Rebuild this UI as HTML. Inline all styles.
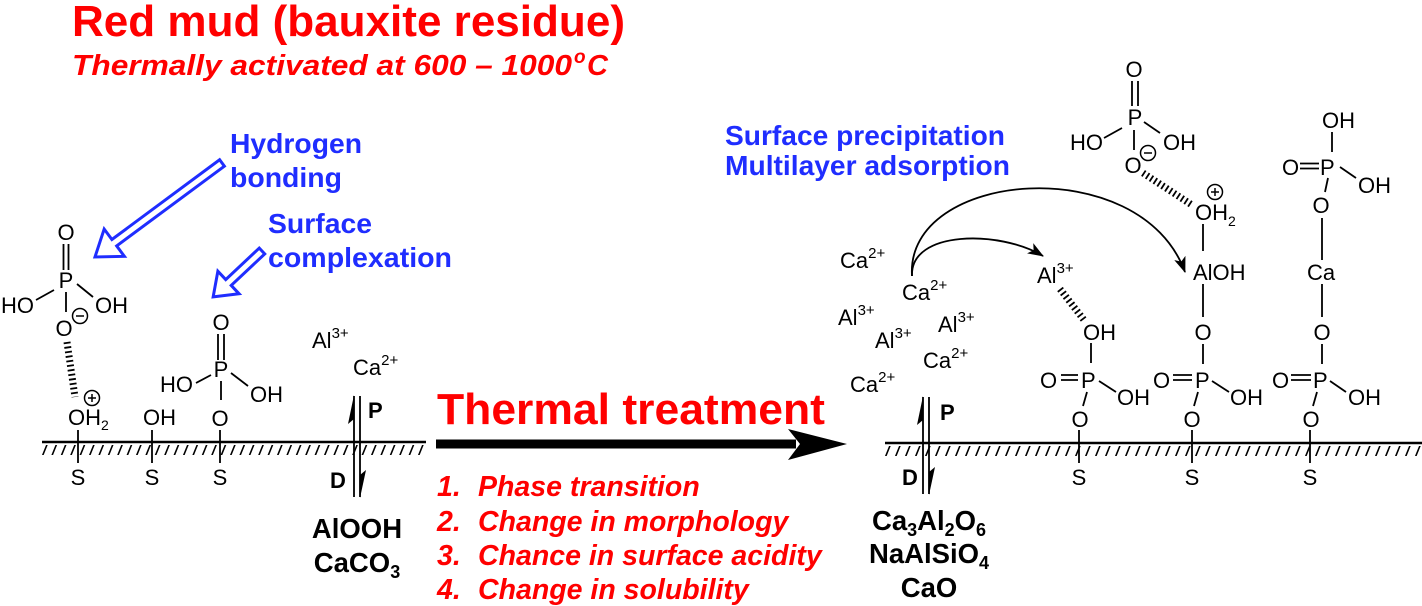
<!DOCTYPE html>
<html><head><meta charset="utf-8">
<style>
html,body{margin:0;padding:0;background:#fff;}
svg{display:block;}
text{font-family:"Liberation Sans",Arial,sans-serif;}
</style></head><body>
<svg width="1422" height="606" viewBox="0 0 1422 606" xmlns="http://www.w3.org/2000/svg">
<defs>
<marker id="ah" markerUnits="userSpaceOnUse" markerWidth="16" markerHeight="12" viewBox="0 0 16 12" refX="15" refY="6" orient="auto">
<path d="M0,0 L16,6 L0,12 L4,6 z" fill="#000"/>
</marker>
</defs>
<rect width="1422" height="606" fill="#fff"/>

<!-- Titles -->
<g fill="#ff0000" font-weight="bold">
<text x="72" y="36" font-size="44" textLength="553" lengthAdjust="spacingAndGlyphs">Red mud (bauxite residue)</text>
<text x="72" y="75" font-size="29" font-style="italic" textLength="500" lengthAdjust="spacingAndGlyphs">Thermally activated at 600 – 1000</text>
<text x="574" y="63" font-size="19" font-style="italic">o</text>
<text x="587" y="75" font-size="29" font-style="italic">C</text>
<text x="437" y="424" font-size="44" textLength="388" lengthAdjust="spacingAndGlyphs">Thermal treatment</text>
<g font-style="italic" font-size="28.5">
<text x="437" y="496">1.</text><text x="478" y="496">Phase transition</text>
<text x="437" y="531">2.</text><text x="478" y="531">Change in morphology</text>
<text x="437" y="565">3.</text><text x="478" y="565">Chance in surface acidity</text>
<text x="437" y="599">4.</text><text x="478" y="599">Change in solubility</text>
</g>
</g>

<!-- Blue labels -->
<g fill="#1f2dff" font-weight="bold" font-size="28">
<text x="230" y="153" textLength="132" lengthAdjust="spacingAndGlyphs">Hydrogen</text>
<text x="230" y="187" textLength="112" lengthAdjust="spacingAndGlyphs">bonding</text>
<text x="268" y="233" textLength="104" lengthAdjust="spacingAndGlyphs">Surface</text>
<text x="268" y="267" textLength="184" lengthAdjust="spacingAndGlyphs">complexation</text>
<text x="725" y="145" textLength="280" lengthAdjust="spacingAndGlyphs">Surface precipitation</text>
<text x="725" y="175" textLength="285" lengthAdjust="spacingAndGlyphs">Multilayer adsorption</text>
</g>

<!-- Blue hollow arrows -->
<g fill="#fff" stroke="#1f2dff" stroke-width="3" stroke-linejoin="miter">
<polygon points="0,-4 134,-4 134,-17 158,0 134,17 134,4 0,4" transform="translate(222,163) rotate(143.5)"/>
<polygon points="0,-4 46,-4 46,-15.5 67,0 46,15.5 46,4 0,4" transform="translate(262,251) rotate(136.8)"/>
</g>

<!-- Thermal arrow -->
<rect x="436" y="439.5" width="360" height="9" fill="#000"/>
<polygon points="847,444 788,429 800,444 788,460" fill="#000"/>

<!-- Surfaces -->
<g stroke="#000" fill="none">
<path d="M42,442 H426" stroke-width="2.5"/>
<path d="M885,443 H1422" stroke-width="2.5"/>
</g>
<g transform="translate(181.8,0) skewX(-22)">
<line x1="44" y1="450" x2="426" y2="450" stroke="#000" stroke-width="10" stroke-dasharray="1.7 7.7"/>
</g>
<g transform="translate(182.2,0) skewX(-22)">
<line x1="887" y1="451" x2="1422" y2="451" stroke="#000" stroke-width="10" stroke-dasharray="1.7 8.3"/>
</g>

<!-- Bonds -->
<g stroke="#000" stroke-width="1.8" fill="none">
<!-- left molecule 1 -->
<path d="M63.5,244 V270 M68.5,244 V270 M36,300 L54,290 M77,284 L93,297 M66,292 V312"/>
<path d="M78,430 V463 M152,430 V463 M220,430 V463"/>
<!-- phosphate 2 -->
<path d="M218,334 V360 M224,334 V360 M196,383 L211,375 M231,373 L248,386 M221,381 V400"/>
<!-- P/D left -->
<path d="M354,396 V497 M360,396 V497"/>
<!-- P/D right -->
<path d="M923,397 V494 M929,397 V494"/>
<!-- column A -->
<path d="M1091,343 V363 M1061,375 H1078 M1061,380 H1078 M1099,381 L1116,392 M1087,392 L1083,406 M1079,430 V463"/>
<!-- column B -->
<path d="M1132,81 V106 M1138,81 V106 M1104,138 L1122,128 M1144,122 L1160,133 M1134,130 V150"/>
<path d="M1203,224 V251 M1203,284 V317 M1203,344 V364 M1173,375 H1192 M1173,380 H1192 M1212,381 L1229,392 M1198,392 L1194,406 M1192,430 V463"/>
<!-- column C -->
<path d="M1332,132 V152 M1300,163.5 H1319 M1300,168.5 H1319 M1340,167 L1356,178 M1328,178 L1325,192 M1322,218 V260"/>
<path d="M1322,284 V317 M1322,344 V364 M1291,375 H1311 M1291,380 H1311 M1330,381 L1346,392 M1317,392 L1313,406 M1310,430 V463"/>
</g>

<!-- Hashed bonds -->
<g stroke="#000" stroke-width="7" stroke-dasharray="1.8 2.8" fill="none">
<line x1="67" y1="342" x2="75" y2="397"/>
<line x1="1143" y1="173" x2="1192" y2="205"/>
<line x1="1060" y1="289" x2="1084" y2="320"/>
</g>

<!-- Barbs -->
<g fill="#000">
<polygon points="354,395 348,424 354,419"/>
<polygon points="360,498 366,470 360,475"/>
<polygon points="923,396 917,425 923,420"/>
<polygon points="929,495 935,467 929,472"/>
</g>

<!-- Arcs -->
<g stroke="#000" stroke-width="1.8" fill="none">
<path d="M912,276 C905,170 1140,150 1185,272" marker-end="url(#ah)"/>
<path d="M912,276 C910,230 1000,230 1043,256" marker-end="url(#ah)"/>
</g>

<!-- Charge circles -->
<g stroke="#000" stroke-width="1.5" fill="#fff">
<circle cx="80" cy="316" r="7.5"/>
<circle cx="92" cy="398" r="7.5"/>
<circle cx="1148" cy="153" r="7.5"/>
<circle cx="1215" cy="192" r="7.5"/>
</g>
<g stroke="#000" stroke-width="1.5">
<path d="M76,316 H84"/>
<path d="M88,398 H96 M92,394 V402"/>
<path d="M1144,153 H1152"/>
<path d="M1211,192 H1219 M1215,188 V196"/>
</g>

<!-- Chemistry text (regular) -->
<g fill="#000" font-size="22">
<!-- left molecule 1 -->
<text x="66" y="240" text-anchor="middle">O</text>
<text x="66" y="288" text-anchor="middle">P</text>
<text x="1" y="313">HO</text>
<text x="95" y="313">OH</text>
<text x="64" y="336" text-anchor="middle">O</text>
<text x="68" y="425">OH<tspan font-size="14" dy="5">2</tspan></text>
<text x="143" y="425">OH</text>
<!-- phosphate 2 -->
<text x="221" y="330" text-anchor="middle">O</text>
<text x="221" y="377" text-anchor="middle">P</text>
<text x="160" y="392">HO</text>
<text x="250" y="402">OH</text>
<text x="220" y="426" text-anchor="middle">O</text>
<!-- S labels -->
<text x="78" y="485" text-anchor="middle">S</text>
<text x="152" y="485" text-anchor="middle">S</text>
<text x="220" y="485" text-anchor="middle">S</text>
<text x="1079" y="485" text-anchor="middle">S</text>
<text x="1192" y="485" text-anchor="middle">S</text>
<text x="1310" y="485" text-anchor="middle">S</text>
<!-- ions left -->
<text x="312" y="348">Al<tspan font-size="15" dy="-10">3+</tspan></text>
<text x="353" y="375">Ca<tspan font-size="15" dy="-10">2+</tspan></text>
<!-- ions right -->
<text x="840" y="268">Ca<tspan font-size="15" dy="-10">2+</tspan></text>
<text x="902" y="300">Ca<tspan font-size="15" dy="-10">2+</tspan></text>
<text x="838" y="325">Al<tspan font-size="15" dy="-10">3+</tspan></text>
<text x="875" y="348">Al<tspan font-size="15" dy="-10">3+</tspan></text>
<text x="938" y="332">Al<tspan font-size="15" dy="-10">3+</tspan></text>
<text x="923" y="368">Ca<tspan font-size="15" dy="-10">2+</tspan></text>
<text x="850" y="392">Ca<tspan font-size="15" dy="-10">2+</tspan></text>
<text x="1037" y="283">Al<tspan font-size="15" dy="-10">3+</tspan></text>
<!-- column A -->
<text x="1083" y="340">OH</text>
<text x="1040" y="388">O</text>
<text x="1081" y="388">P</text>
<text x="1117" y="405">OH</text>
<text x="1080" y="427" text-anchor="middle">O</text>
<!-- column B -->
<text x="1134" y="77" text-anchor="middle">O</text>
<text x="1135" y="125" text-anchor="middle">P</text>
<text x="1070" y="150">HO</text>
<text x="1163" y="150">OH</text>
<text x="1133" y="173" text-anchor="middle">O</text>
<text x="1195" y="220">OH<tspan font-size="14" dy="6">2</tspan></text>
<text x="1193" y="280">AlOH</text>
<text x="1203" y="340" text-anchor="middle">O</text>
<text x="1153" y="388">O</text>
<text x="1195" y="388">P</text>
<text x="1230" y="405">OH</text>
<text x="1192" y="427" text-anchor="middle">O</text>
<!-- column C -->
<text x="1322" y="128">OH</text>
<text x="1282" y="175">O</text>
<text x="1320" y="175">P</text>
<text x="1358" y="193">OH</text>
<text x="1321" y="213" text-anchor="middle">O</text>
<text x="1307" y="280">Ca</text>
<text x="1322" y="340" text-anchor="middle">O</text>
<text x="1272" y="388">O</text>
<text x="1313" y="388">P</text>
<text x="1348" y="405">OH</text>
<text x="1311" y="427" text-anchor="middle">O</text>
</g>

<!-- Bold black labels -->
<g fill="#000" font-weight="bold">
<text x="368" y="418" font-size="22">P</text>
<text x="330" y="488" font-size="22">D</text>
<text x="940" y="420" font-size="22">P</text>
<text x="902" y="485" font-size="22">D</text>
<g font-size="27.5" text-anchor="middle">
<text x="357" y="538">AlOOH</text>
<text x="357" y="572">CaCO<tspan font-size="18" dy="6">3</tspan></text>
<text x="929" y="530">Ca<tspan font-size="18" dy="6">3</tspan><tspan dy="-6">Al</tspan><tspan font-size="18" dy="6">2</tspan><tspan dy="-6">O</tspan><tspan font-size="18" dy="6">6</tspan></text>
<text x="929" y="563">NaAlSiO<tspan font-size="18" dy="6">4</tspan></text>
<text x="929" y="597">CaO</text>
</g>
</g>
</svg>
</body></html>
